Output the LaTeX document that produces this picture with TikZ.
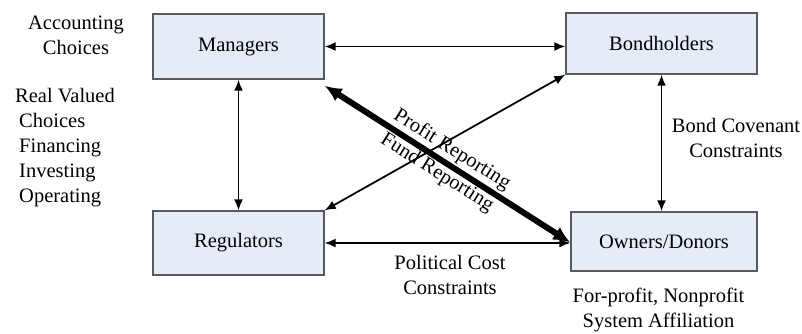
\documentclass[tikz,border=0pt]{standalone}
\usepackage{fontspec}
\setmainfont{Liberation Serif}
\usetikzlibrary{arrows.meta}
\definecolor{boxfill}{RGB}{230,236,247}
\definecolor{boxline}{RGB}{90,90,90}
\begin{document}
\begin{tikzpicture}[x=1pt,y=-1pt,
  font=\fontsize{20.5}{25}\selectfont,
  party/.style={draw=boxline,line width=1.3pt,fill=boxfill,rectangle,inner sep=0pt},
  link/.style={line width=1.8pt,{Latex[length=11pt,width=9pt]}-{Latex[length=11pt,width=9pt]}},
  biglink/.style={line width=6pt,{Latex[length=17pt,width=15pt]}-{Latex[length=17pt,width=15pt]}},
  lbl/.style={align=center,inner sep=0pt}]
\useasboundingbox (0,0) rectangle (802,333);
\node[party,minimum width=171pt,minimum height=65pt] (man) at (238.5,46.5) {Managers};
\node[party,minimum width=191pt,minimum height=61pt] (bond) at (661.5,43.5) {Bondholders};
\node[party,minimum width=171pt,minimum height=64pt] (reg) at (238.5,243) {Regulators};
\node[party,minimum width=186pt,minimum height=59pt] (own) at (664,241.5) {Owners/Donors};
\coordinate (mt) at ([yshift=-6pt]man.south east);
\draw[link] (man.east) -- (bond.west |- man.east);
\draw[link] (man.south) -- (reg.north);
\draw[link] (bond.south) -- (bond.south |- own.north);
\draw[link] (reg.east) -- (own.west |- reg.east);
\draw[link] (bond.south west) -- (reg.north east);
\draw[biglink] (mt) -- ([yshift=-1pt]own.west);
\node[lbl,rotate=-32.1] (pr) at (452,150) {Profit Reporting};
\node[lbl,rotate=-32.1] (fr) at (437,173) {Fund Reporting};
\node[lbl] (acc) at (76,35.5) {Accounting\\Choices};
\node[lbl,anchor=west,align=left] (rv) at (15,148) {Real Valued\\\hspace*{4pt}Choices\\\hspace*{4pt}Financing\\\hspace*{4pt}Investing\\\hspace*{4pt}Operating};
\node[lbl] (bc) at (736,137.5) {Bond Covenant\\Constraints};
\node[lbl] (pc) at (450,274.5) {Political Cost\\Constraints};
\node[lbl] (fp) at (658.5,310) {For-profit, Nonprofit\\System Affiliation};
\end{tikzpicture}
\end{document}
